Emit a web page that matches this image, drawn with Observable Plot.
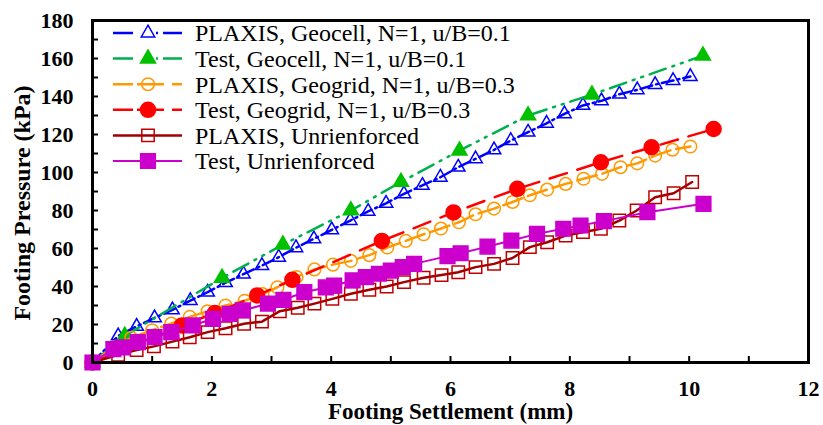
<!DOCTYPE html>
<html><head><meta charset="utf-8">
<script src="https://cdn.jsdelivr.net/npm/d3@7"></script>
<script src="https://cdn.jsdelivr.net/npm/@observablehq/plot@0.6"></script>
<style>body{margin:0;background:#fff} svg{display:block} svg text{font-family:"Liberation Serif","Times New Roman",serif;}</style>
</head><body><div id="chart"></div>
<script>
// ---- data ----
const plaxisGeocellX = [0,0.43,0.74,1.04,1.34,1.64,1.93,2.23,2.53,2.84,3.12,3.41,3.71,4.01,4.32,4.62,4.92,5.22,5.53,5.83,6.13,6.42,6.73,7.01,7.30,7.61,7.91,8.22,8.53,8.83,9.13,9.43,9.73,10.02];
const plaxisGeocellY = [0,14,19,23.5,27.7,32.6,37,42,46.5,51,55.4,60.4,65.1,69.8,74.7,79.5,83.8,88.8,93.2,97.5,102.8,107.2,111.9,116.8,121.2,125.9,130.9,135.3,137.7,141.2,143.5,146.3,148.4,150.5];
const testGeocellX = [0,0.54,2.17,3.19,4.33,5.17,6.15,7.30,8.37,10.23];
const testGeocellY = [0,14,44.5,62,80,95,111.5,130,141,161.5];
const plaxisGeogridX = [0,0.35,0.65,1.0,1.32,1.63,1.93,2.23,2.55,2.85,3.1,3.42,3.72,4.03,4.33,4.64,4.94,5.25,5.55,5.84,6.14,6.42,6.73,7.04,7.33,7.62,7.93,8.23,8.54,8.85,9.13,9.43,9.72,10.02];
const plaxisGeogridY = [0,8,13,17,20.5,24,27,30,32.5,36,39.6,45,49,51.5,53.5,56.5,60.5,64,67.5,70.5,73.8,78,81,84.5,88,91,94,96.7,99.3,102.8,104.8,108.9,112,113.7];
const testGeogridX = [0,1.5,2.05,2.76,3.35,4.85,6.05,7.12,8.52,9.37,10.41];
const testGeogridY = [0,19.5,26,35.3,43.5,64,79,91.4,105.4,113.3,122.9];
const plaxisUnreinforcedX = [0,0.43,0.74,1.03,1.34,1.63,1.93,2.23,2.54,2.84,3.14,3.44,3.72,4.02,4.33,4.64,4.93,5.22,5.55,5.85,6.13,6.42,6.73,7.04,7.33,7.62,7.93,8.22,8.52,8.83,9.12,9.43,9.74,10.05];
const plaxisUnreinforcedY = [0,4,6.5,8.5,11,13.3,16,18,20.4,21.5,27,28.8,31,33.5,36.2,38.3,40,42.3,44.6,46,47.5,50.2,51.9,55,60.7,63.3,66.8,68.6,70.4,74.7,80,87,89.1,95];
const testUnreinforcedX = [0,0.35,0.51,0.76,1.04,1.32,1.68,2.02,2.30,2.52,2.94,3.2,3.55,3.91,4.05,4.36,4.58,4.80,5.0,5.2,5.39,5.95,6.17,6.62,7.02,7.45,7.89,8.18,8.57,9.3,10.24];
const testUnreinforcedY = [0,7,8,10.7,13.3,16,19.5,23,25.6,27.4,31,33,37,39.5,40.5,43.2,44.9,46.7,48.4,50.2,51.9,56,57.5,61,64.2,67.7,70.4,72.1,74.4,79.1,83.5];

const seriesNames = [
  "PLAXIS, Geocell, N=1, u/B=0.1",
  "Test, Geocell, N=1, u/B=0.1",
  "PLAXIS, Geogrid, N=1, u/B=0.3",
  "Test, Geogrid, N=1, u/B=0.3",
  "PLAXIS, Unrienforced",
  "Test, Unrienforced"
];
const xTicks = [0,2,4,6,8,10,12];
const yTicks = [0,20,40,60,80,100,120,140,160,180];
const xTitle = "Footing Settlement (mm)";
const yTitle = "Footing Pressure (kPa)";

// ---- styles ----
const styles = [
  {x: plaxisGeocellX, y: plaxisGeocellY, line:"#0000ff", dash:"12,4,2,4", w:2.5, sym:"triangle", r:5, fill:"none", stroke:"#0000ff", legDash:"20,23,2,5,20,100"},
  {x: testGeocellX, y: testGeocellY, line:"#00b050", dash:"17,7,2,7,2,7", w:2.5, sym:"triangle", r:5.6, fill:"#00c000", stroke:"#00c000", legDash:"20,23,2,5,20,100"},
  {x: plaxisGeogridX, y: plaxisGeogridY, line:"#ff9900", dash:"20,6", w:2.5, sym:"circle", r:6.3, fill:"none", stroke:"#ff9900", legDash:"20,4,27,8,20,100"},
  {x: testGeogridX, y: testGeogridY, line:"#ff0000", dash:"18,11", w:2.5, sym:"circle", r:7.5, fill:"#ff0000", stroke:"#ff0000", legDash:"20,4,27,8,20,100"},
  {x: plaxisUnreinforcedX, y: plaxisUnreinforcedY, line:"#a00000", dash:null, w:2.5, sym:"square", r:7, fill:"none", stroke:"#c00000", legDash:null},
  {x: testUnreinforcedX, y: testUnreinforcedY, line:"#cc00cc", dash:null, w:2, sym:"square", r:8.3, fill:"#cc00cc", stroke:"#cc00cc", legDash:null}
];

const marks = [];
styles.forEach((s, i) => {
  const rows = s.x.map((x, j) => ({x, y: s.y[j], series: seriesNames[i]}));
  marks.push(Plot.line(rows, {x:"x", y:"y", stroke:s.line, strokeWidth:s.w, strokeDasharray:s.dash ?? undefined}));
  marks.push(Plot.dot(rows, {x:"x", y:"y", symbol:s.sym, r:s.r, fill:s.fill, stroke:s.stroke, strokeWidth:1.5}));
});

const font = "Liberation Serif";
const chart = Plot.plot({
  width: 823, height: 425,
  marginLeft: 92, marginRight: 15, marginTop: 20, marginBottom: 63,
  style: {background: "#fff", color: "#000"},
  x: {domain: [0, 12]},
  y: {domain: [0, 180]},
  marks: [
    Plot.axisX({ticks: d3.range(0, 13, 1), tickSize: -6, tickFormat: () => "", strokeWidth: 2, label: null}),
    Plot.axisX({ticks: xTicks, tickSize: 0, tickPadding: 18, fontSize: 22, fontWeight: "bold", fontFamily: font, label: null}),
    Plot.axisY({ticks: d3.range(0, 181, 10), tickSize: -6, tickFormat: () => "", strokeWidth: 2, label: null}),
    Plot.axisY({ticks: yTicks, tickSize: 0, tickPadding: 19, fontSize: 22, fontWeight: "bold", fontFamily: font, label: null}),
    ...marks,
    Plot.frame({stroke: "#000", strokeWidth: 3}),
    Plot.text([xTitle], {frameAnchor: "bottom", dy: 56, fontSize: 23, fontWeight: "bold", fontFamily: font})
  ]
});
document.getElementById("chart").appendChild(chart);

const svg = d3.select(chart);
// y title
svg.append("text").attr("transform", "translate(22,203) rotate(-90)")
  .attr("text-anchor", "middle").attr("dy", "0.35em")
  .attr("font-family", font).attr("font-size", 24).attr("font-weight", "bold").text(yTitle);

// ---- legend ----
const sym = {triangle: d3.symbolTriangle, circle: d3.symbolCircle, square: d3.symbolSquare};
const leg = svg.append("g").attr("text-anchor", "start");
styles.forEach((s, i) => {
  const yy = 33 + i * 25.6;
  leg.append("line").attr("x1", 113).attr("x2", 182).attr("y1", yy).attr("y2", yy)
    .attr("stroke", s.line).attr("stroke-width", s.w).attr("stroke-dasharray", s.legDash);
  leg.append("path").attr("d", d3.symbol(sym[s.sym], Math.PI * s.r * s.r)())
    .attr("transform", `translate(148,${yy})`).attr("fill", s.fill).attr("stroke", s.stroke).attr("stroke-width", 1.5);
  leg.append("text").attr("x", 195).attr("y", yy).attr("dy", "0.35em").attr("text-anchor", "start")
    .attr("font-family", font).attr("font-size", 24).text(seriesNames[i]);
});
</script>
</body></html>
